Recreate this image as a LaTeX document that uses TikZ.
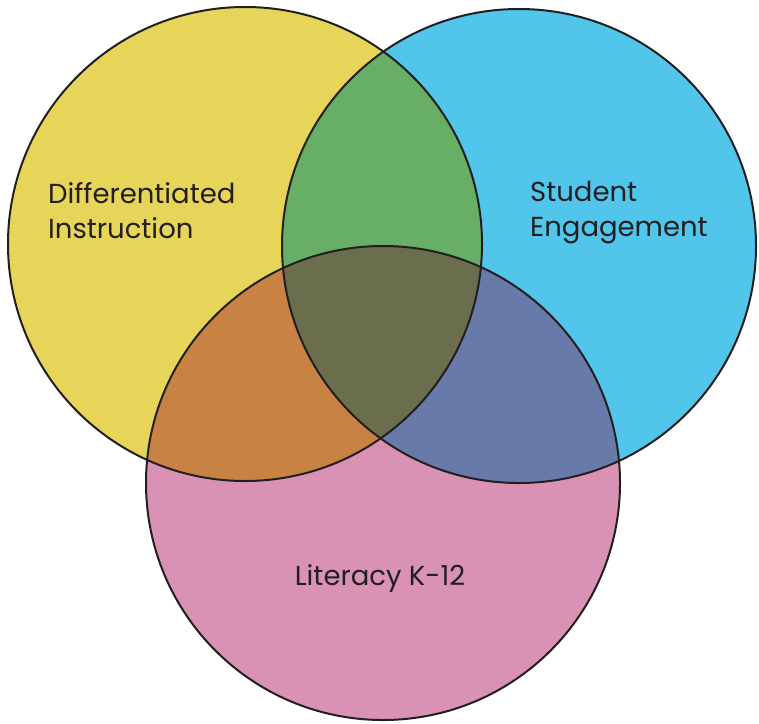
\documentclass[tikz,border=0pt]{standalone}
\usepackage{fontspec}
\setmainfont{Poppins}
\definecolor{diffyellow}{RGB}{231,213,89}
\definecolor{studblue}{RGB}{82,197,234}
\definecolor{litpink}{RGB}{217,146,179}
\definecolor{mixgreen}{RGB}{103,174,103}
\definecolor{mixorange}{RGB}{200,130,68}
\definecolor{mixviolet}{RGB}{104,122,170}
\definecolor{mixolive}{RGB}{106,110,77}
\definecolor{inkgray}{RGB}{35,31,32}
\usetikzlibrary{positioning}

\begin{document}
\begin{tikzpicture}[x=1pt, y=-1pt,
  venntext/.style={font=\fontsize{27.5}{35}\selectfont, text=inkgray, align=left, inner sep=0pt},
  ring/.style={draw=inkgray, line width=2pt}]
  \useasboundingbox (0,0) rectangle (759,723);
  \def\rad{237pt}

  % circle centres
  \coordinate (diff) at (245,244);
  \coordinate (stud) at (519,246);
  \coordinate (lit) at (383,483);

  % single regions
  \fill[diffyellow] (diff) circle (\rad);
  \fill[studblue] (stud) circle (\rad);
  \fill[litpink] (lit) circle (\rad);

  % pairwise overlaps
  \begin{scope}
    \clip (diff) circle (\rad);
    \fill[mixgreen] (stud) circle (\rad);
    \fill[mixorange] (lit) circle (\rad);
  \end{scope}
  \begin{scope}
    \clip (stud) circle (\rad);
    \fill[mixviolet] (lit) circle (\rad);
  \end{scope}

  % centre overlap
  \begin{scope}
    \clip (diff) circle (\rad);
    \clip (stud) circle (\rad);
    \fill[mixolive] (lit) circle (\rad);
  \end{scope}

  % outlines
  \draw[ring] (diff) circle (\rad);
  \draw[ring] (stud) circle (\rad);
  \draw[ring] (lit) circle (\rad);

  % labels
  \node[venntext, anchor=west] (difflabel) at (48,211) {Differentiated\\Instruction};
  \node[venntext, anchor=west] (studlabel) at (530,213) {Student\\Engagement};
  \node[venntext] (litlabel) at (380,579) {Literacy K-12};
\end{tikzpicture}
\end{document}
